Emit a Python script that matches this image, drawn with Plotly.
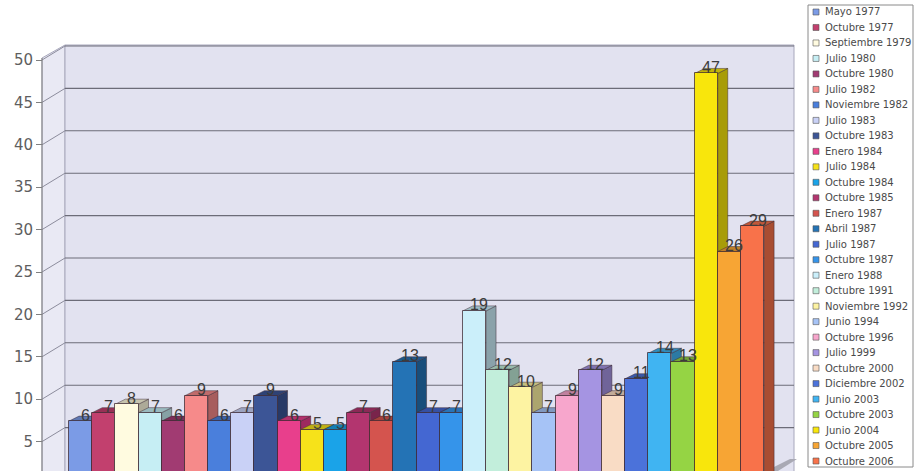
import plotly.graph_objects as go

# ---- data -------------------------------------------------------------
categories = [
    "Mayo 1977", "Octubre 1977", "Septiembre 1979", "Julio 1980", "Octubre 1980",
    "Julio 1982", "Noviembre 1982", "Julio 1983", "Octubre 1983", "Enero 1984",
    "Julio 1984", "Octubre 1984", "Octubre 1985", "Enero 1987", "Abril 1987",
    "Julio 1987", "Octubre 1987", "Enero 1988", "Octubre 1991", "Noviembre 1992",
    "Junio 1994", "Octubre 1996", "Julio 1999", "Octubre 2000", "Diciembre 2002",
    "Junio 2003", "Octubre 2003", "Junio 2004", "Octubre 2005", "Octubre 2006",
]
values = [6, 7, 8, 7, 6, 9, 6, 7, 9, 6, 5, 5, 7, 6, 13,
          7, 7, 19, 12, 10, 7, 9, 12, 9, 11, 14, 13, 47, 26, 29]
bar_colors = [
    "#7b9be6", "#c2406e", "#fffbe0", "#c6eef4", "#a13b72",
    "#f68a8a", "#4a7fdc", "#c9d1f6", "#3c5596", "#e83f8c",
    "#f6e21a", "#1aa3e8", "#b3356f", "#d4544e", "#2473b5",
    "#4467d2", "#3594ea", "#cbeffa", "#c2eedb", "#fdf3a2",
    "#a6c3f6", "#f7a6cc", "#a594e2", "#f9dcc5", "#4b72da",
    "#40b4f2", "#95d444", "#f8e60c", "#f7a534", "#f8724a",
]
y_ticks = [5, 10, 15, 20, 25, 30, 35, 40, 45, 50]

# ---- pixel geometry of the 3-D frame ---------------------------------
W, H = 915, 471
BAR0 = 69.0      # left edge of first bar (px)
BARW = 23.17     # bar slot width (px)
ZERO = 472.0     # pixel row of value 0 on the bar plane
UNIT = 8.48      # px per unit
DX, DY = 10, 5   # bar depth offset (px)
AXIS_X, WALL_X, WALL_R = 42, 65, 794
AXIS_TOP, WALL_TOP = 58, 45
BACK_OFF = 2.0 / UNIT      # back wall sits slightly higher than bar plane
FRONT_PX = 12.0            # front axis sits lower than the bar plane
FRONT_OFF = -FRONT_PX / UNIT


def xd(px):
    return -0.5 + (px - BAR0) / BARW


def yd(py):
    return (ZERO - py) / UNIT


def shade(hexcol, f):
    r, g, b = (int(hexcol[i:i + 2], 16) for i in (1, 3, 5))
    return "rgb({},{},{})".format(int(r * f), int(g * f), int(b * f))


shapes = []
# left side wall
shapes.append(dict(
    type="path", xref="x", yref="y", layer="below",
    path="M{},{} L{},{} L{},{} L{},{} Z".format(
        xd(AXIS_X), yd(AXIS_TOP), xd(WALL_X), yd(WALL_TOP),
        xd(WALL_X), yd(H + 5), xd(AXIS_X), yd(H + 5)),
    fillcolor="#e9e9f4", line=dict(color="#a8a8bc", width=1)))
# back wall
shapes.append(dict(
    type="rect", xref="x", yref="y", layer="below",
    x0=xd(WALL_X), x1=xd(WALL_R), y0=yd(H + 5), y1=yd(WALL_TOP),
    fillcolor="#e2e2f0", line=dict(color="#a8a8bc", width=1)))
# gridlines on the back wall and their links to the front axis
for v in y_ticks:
    shapes.append(dict(
        type="line", xref="x", yref="y", layer="below",
        x0=xd(WALL_X), x1=xd(WALL_R), y0=v + BACK_OFF, y1=v + BACK_OFF,
        line=dict(color="#6c6c78", width=1.1)))
    shapes.append(dict(
        type="line", xref="x", yref="y", layer="below",
        x0=xd(AXIS_X), x1=xd(WALL_X), y0=v + FRONT_OFF, y1=v + BACK_OFF,
        line=dict(color="#8c8c9c", width=1)))
# front value axis line
shapes.append(dict(
    type="line", xref="x", yref="y", layer="below",
    x0=xd(AXIS_X), x1=xd(AXIS_X), y0=yd(AXIS_TOP), y1=yd(H + 5),
    line=dict(color="#808080", width=1)))
# floor edge at the lower right
shapes.append(dict(
    type="path", xref="x", yref="y", layer="below",
    path="M{},{} L{},{} L{},{} L{},{} Z".format(
        xd(766), yd(H), xd(790), yd(459), xd(WALL_R + 3), yd(459),
        xd(778), yd(H)),
    fillcolor="#a9a9b4", line=dict(width=0)))

# depth faces of each bar (side and top), drawn under the front faces
for i, (v, c) in enumerate(zip(values, bar_colors)):
    shapes.append(dict(
        type="path", xref="x", yref="y", layer="below",
        xsizemode="pixel", ysizemode="pixel", xanchor=i + 0.5, yanchor=v,
        path="M0,0 L{},{} L{},-600 L0,-600 Z".format(DX, DY, DX),
        fillcolor=shade(c, 0.68), line=dict(color="rgba(60,40,50,0.6)", width=0.8)))
    shapes.append(dict(
        type="path", xref="x", yref="y", layer="below",
        xsizemode="pixel", ysizemode="pixel", xanchor=i - 0.5, yanchor=v,
        path="M0,0 L{},{} L{},{} L{},0 Z".format(DX, DY, BARW + DX, DY, BARW),
        fillcolor=shade(c, 0.78), line=dict(color="rgba(60,40,50,0.6)", width=0.8)))

# legend box
LX0, LX1, LY0, LY1 = 808, 913, 5, 467
shapes.append(dict(
    type="rect", xref="paper", yref="paper",
    x0=LX0 / W, x1=LX1 / W, y0=1 - LY1 / H, y1=1 - LY0 / H,
    fillcolor="white", line=dict(color="#8a8a8a", width=1)))

annotations = []
# value labels over the bars
for i, v in enumerate(values):
    annotations.append(dict(
        x=i, y=v, xref="x", yref="y", text=str(v), showarrow=False,
        xshift=5, yshift=6, yanchor="middle",
        font=dict(family="Liberation Sans", size=16, color="#3c3c3c")))

# legend entries
STEP = (461 - 12) / (len(categories) - 1)
for i, (cat, c) in enumerate(zip(categories, bar_colors)):
    cy = 12 + STEP * i
    shapes.append(dict(
        type="rect", xref="paper", yref="paper",
        x0=813 / W, x1=819 / W, y0=1 - (cy + 3) / H, y1=1 - (cy - 3) / H,
        fillcolor=c, line=dict(color="#555555", width=0.6)))
    annotations.append(dict(
        x=823 / W, y=1 - cy / H, xref="paper", yref="paper",
        xanchor="left", yanchor="middle", text=cat, showarrow=False,
        font=dict(family="DejaVu Sans", size=10, color="#4a4a4a")))

fig = go.Figure()
fig.add_trace(go.Bar(
    x=list(range(len(values))), y=values, width=1,
    marker=dict(color=bar_colors, line=dict(color="rgba(60,40,50,0.75)", width=1)),
    hoverinfo="skip", showlegend=False))
# invisible trace to carry the front value axis
fig.add_trace(go.Scatter(x=[0], y=[10], yaxis="y2", mode="markers",
                         marker=dict(opacity=0), showlegend=False, hoverinfo="skip"))

fig.update_layout(
    width=W, height=H,
    margin=dict(l=0, r=0, t=0, b=0),
    paper_bgcolor="white", plot_bgcolor="white",
    bargap=0, showlegend=False,
    xaxis=dict(range=[xd(0), xd(W)], domain=[0, 1], visible=False, fixedrange=True),
    yaxis=dict(range=[yd(H), yd(0)], domain=[0, 1], visible=False, fixedrange=True),
    yaxis2=dict(
        overlaying="y", anchor="free", position=AXIS_X / W, side="left",
        range=[(ZERO + FRONT_PX - H) / UNIT, (ZERO + FRONT_PX) / UNIT],
        tickvals=y_ticks, ticks="outside", ticklen=6, tickcolor="#808080",
        showline=False, showgrid=False, zeroline=False,
        tickfont=dict(family="DejaVu Sans", size=15, color="#5e5e5e")),
    shapes=shapes, annotations=annotations,
)

fig.write_html("out.html")
